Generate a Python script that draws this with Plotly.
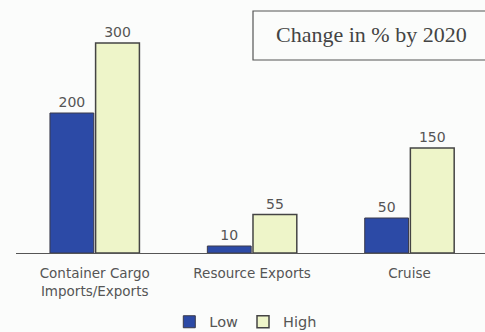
import plotly.graph_objects as go

categories = ["Container Cargo<br>Imports/Exports", "Resource Exports", "Cruise"]
low_values = [200, 10, 50]
high_values = [300, 55, 150]
box_title = "Change in % by 2020"

W, H = 485, 332
ml, mr, mt, mb = 16, 0, 0, 79
pw, ph = W - ml - mr, H - mt - mb

def px_x(x):
    return (x - ml) / pw

def px_y(y):
    return (H - mb - y) / ph

value_font = dict(family="DejaVu Sans, Verdana", size=14, color="#555555")
tick_font = dict(family="DejaVu Sans, Verdana", size=13.5, color="#555555")

fig = go.Figure()
fig.add_trace(go.Bar(
    x=categories, y=low_values, name="Low",
    marker=dict(color="#2c4aa6", line=dict(color="#3a3a4a", width=1)),
    text=[str(v) for v in low_values], textposition="outside",
    textfont=value_font, cliponaxis=False,
))
fig.add_trace(go.Bar(
    x=categories, y=high_values, name="High",
    marker=dict(color="#eef5c9", line=dict(color="#444444", width=1.5)),
    text=[str(v) for v in high_values], textposition="outside",
    textfont=value_font, cliponaxis=False,
))

fig.add_shape(type="rect", xref="paper", yref="paper",
              x0=px_x(253), x1=px_x(492), y0=px_y(60), y1=px_y(11),
              line=dict(color="#555555", width=1.2), fillcolor="rgba(0,0,0,0)")
fig.add_annotation(xref="paper", yref="paper", x=px_x(371), y=px_y(35),
                   xanchor="center", yanchor="middle",
                   text=box_title, showarrow=False,
                   font=dict(family="Liberation Serif, Times New Roman", size=22, color="#444444"))

fig.update_layout(
    width=W, height=H,
    margin=dict(l=ml, r=mr, t=mt, b=mb, autoexpand=False),
    paper_bgcolor="#fbfcfb", plot_bgcolor="#fbfcfb",
    barmode="group", bargap=0.42, bargroupgap=0.04,
    showlegend=True,
    legend=dict(orientation="h", x=0.49, xanchor="center", y=-0.272, yanchor="middle",
                font=dict(family="DejaVu Sans, Verdana", size=14.5, color="#555555"),
                itemwidth=30, bgcolor="rgba(0,0,0,0)"),
    xaxis=dict(range=[-0.5, 2.48], showgrid=False, showline=True, linecolor="#555555",
               linewidth=1, ticks="", tickfont=tick_font, ticklabelstandoff=8,
               automargin=False),
    yaxis=dict(range=[0, ph / 0.7], visible=False, showgrid=False, zeroline=False,
               automargin=False),
)

fig.write_html("out.html")
